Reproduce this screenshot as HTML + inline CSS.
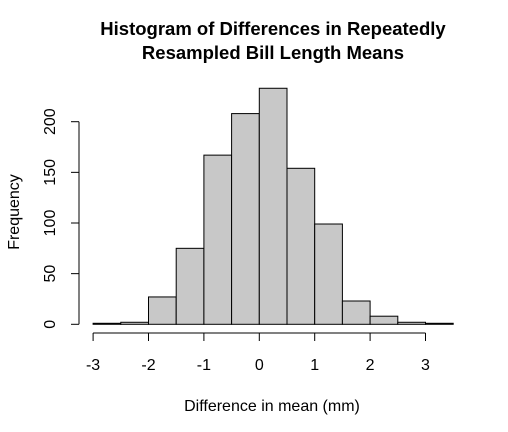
<!DOCTYPE html>
<html><head><meta charset="utf-8"><style>
body{margin:0;background:#fff}
svg{display:block;font-family:"Liberation Sans",Arial,sans-serif}
</style></head><body>
<svg id="c" width="508" height="432" xmlns="http://www.w3.org/2000/svg">
<text x="273" y="35" text-anchor="middle" font-size="18.5" font-weight="bold">Histogram of Differences in Repeatedly</text>
<text x="273" y="59" text-anchor="middle" font-size="18.5" font-weight="bold">Resampled Bill Length Means</text>
<text x="272" y="411" text-anchor="middle" font-size="16">Difference in mean (mm)</text>
<text transform="translate(19,212) rotate(-90)" text-anchor="middle" font-size="16">Frequency</text>
<g id="bars"></g>
<g id="xaxis"></g>
<g id="yaxis"></g>
</svg>
<script>
const binStarts=[-3,-2.5,-2,-1.5,-1,-0.5,0,0.5,1,1.5,2,2.5,3];
const counts=[1,2,27,75,167,208,233,154,99,23,8,2,1];
const binWidth=0.5;
const xTicks=[-3,-2,-1,0,1,2,3];
const yTicks=[0,50,100,150,200];
const NS="http://www.w3.org/2000/svg";
const xs=v=>259.3+v*55.4;
const ys=v=>324.3-v*1.013;
function mk(t,a,p){const e=document.createElementNS(NS,t);for(const k in a)e.setAttribute(k,a[k]);p.appendChild(e);return e;}
const bars=document.getElementById('bars');
binStarts.forEach((b,i)=>{
 const x0=xs(b),x1=xs(b+binWidth),y=ys(counts[i]);
 const r=mk('rect',{x:x0,y:y,width:x1-x0,height:ys(0)-y,fill:'#c8c8c8',stroke:'#000','stroke-width':1},bars);
 
 
});
const xa=document.getElementById('xaxis');
mk('line',{x1:xs(xTicks[0]),x2:xs(xTicks[xTicks.length-1]),y1:333,y2:333,stroke:'#000'},xa);
xTicks.forEach(t=>{
 mk('line',{x1:xs(t),x2:xs(t),y1:333,y2:341,stroke:'#000'},xa);
 const tx=mk('text',{x:xs(t),y:370,'text-anchor':'middle','font-size':16},xa);
 tx.textContent=t;
 
 
});
const ya=document.getElementById('yaxis');
mk('line',{x1:79,x2:79,y1:ys(yTicks[0]),y2:ys(yTicks[yTicks.length-1]),stroke:'#000'},ya);
yTicks.forEach(t=>{
 mk('line',{x1:71,x2:79,y1:ys(t),y2:ys(t),stroke:'#000'},ya);
 const tx=mk('text',{transform:`translate(55,${ys(t)}) rotate(-90)`,'text-anchor':'middle','font-size':16},ya);
 tx.textContent=t;
 
 
});
</script>
</body></html>
